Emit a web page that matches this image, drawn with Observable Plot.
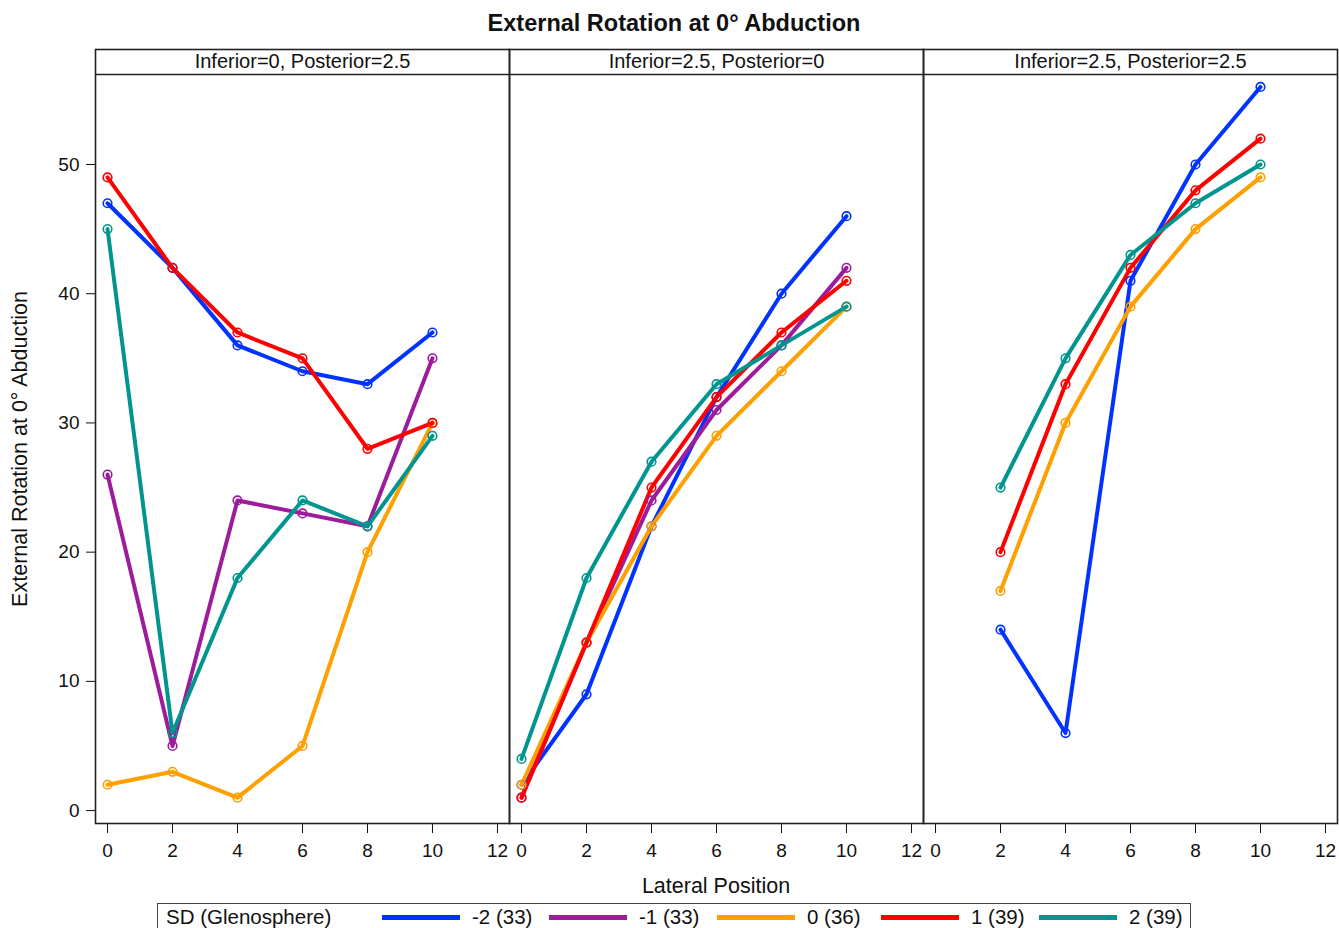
<!DOCTYPE html>
<html>
<head>
<meta charset="utf-8">
<script src="https://cdn.jsdelivr.net/npm/d3@7"></script>
<script src="https://cdn.jsdelivr.net/npm/@observablehq/plot@0.6"></script>
<style>
  html, body { margin: 0; padding: 0; background: #fff; }
  #wrap { position: relative; width: 1339px; height: 928px; overflow: hidden; font-family: "Liberation Sans", Arial, sans-serif; color: #111; }
  #title { position: absolute; left: 674px; top: 10px; transform: translateX(-50%); font-weight: bold; font-size: 23.5px; white-space: nowrap; }
  #chart { position: absolute; left: 0; top: 0; }
  #ylab { position: absolute; left: 20px; top: 449px; transform: translate(-50%, -50%) rotate(-90deg); font-size: 21.5px; white-space: nowrap; }
  #xlab { position: absolute; left: 716px; top: 886px; transform: translate(-50%, -50%); font-size: 21.5px; white-space: nowrap; }
  #legend { position: absolute; left: 157px; top: 903px; width: 1034px; height: 40px; border: 1.5px solid #444; box-sizing: border-box; display: flex; align-items: flex-start; padding-left: 8px; padding-top: 1px; font-size: 20.5px; white-space: nowrap; }
  #legend .ttl { width: 216px; flex: none; }
  #legend .item { display: flex; align-items: center; flex: none; }
  #legend .item:nth-of-type(2) { width: 167px; }
  #legend .item:nth-of-type(3) { width: 168px; }
  #legend .item:nth-of-type(4) { width: 164px; }
  #legend .item:nth-of-type(5) { width: 158px; }
  #legend .sw { width: 78px; height: 5px; margin-right: 12px; }
</style>
</head>
<body>
<div id="wrap">
  <div id="chart"></div>
  <div id="title">External Rotation at 0° Abduction</div>
  <div id="ylab">External Rotation at 0° Abduction</div>
  <div id="xlab">Lateral Position</div>
  <div id="legend"></div>
</div>
<script>
// ---- data ----
const panels = ["Inferior=0, Posterior=2.5", "Inferior=2.5, Posterior=0", "Inferior=2.5, Posterior=2.5"];
const series = ["-2 (33)", "-1 (33)", "0 (36)", "1 (39)", "2 (39)"];
const colors = ["#0033ff", "#9c1c9c", "#ff9f00", "#ff0000", "#00968f"];
const legendTitle = "SD (Glenosphere)";
const positions = [0, 2, 4, 6, 8, 10];
const xTicks = [0, 2, 4, 6, 8, 10, 12];
const yTicks = [0, 10, 20, 30, 40, 50];

// Panel 1: Inferior=0, Posterior=2.5
const p1_m2 = [47, 42, 36, 34, 33, 37];
const p1_m1 = [26, 5, 24, 23, 22, 35];
const p1_0  = [2, 3, 1, 5, 20, 30];
const p1_p1 = [49, 42, 37, 35, 28, 30];
const p1_p2 = [45, 6, 18, 24, 22, 29];
// Panel 2: Inferior=2.5, Posterior=0
const p2_m2 = [2, 9, 22, 32, 40, 46];
const p2_m1 = [1, 13, 24, 31, 36, 42];
const p2_0  = [2, 13, 22, 29, 34, 39];
const p2_p1 = [1, 13, 25, 32, 37, 41];
const p2_p2 = [4, 18, 27, 33, 36, 39];
// Panel 3: Inferior=2.5, Posterior=2.5 (no value at 0, no SD -1)
const p3_m2 = [null, 14, 6, 41, 50, 56];
const p3_m1 = [null, null, null, null, null, null];
const p3_0  = [null, 17, 30, 39, 45, 49];
const p3_p1 = [null, 20, 33, 42, 48, 52];
const p3_p2 = [null, 25, 35, 43, 47, 50];

const table = [
  [p1_m2, p1_m1, p1_0, p1_p1, p1_p2],
  [p2_m2, p2_m1, p2_0, p2_p1, p2_p2],
  [p3_m2, p3_m1, p3_0, p3_p1, p3_p2]
];

const rows = [];
table.forEach((bySeries, pi) => bySeries.forEach((vals, si) => vals.forEach((v, k) => {
  if (v != null) rows.push({panel: panels[pi], sd: series[si], pos: positions[k], value: v});
})));

const yTop = 58.9, yHead = 56.97;

const chart = Plot.plot({
  width: 1339,
  height: 880,
  marginLeft: 94,
  marginRight: 2,
  marginTop: 49,
  marginBottom: 57,
  style: {fontFamily: "Liberation Sans, Arial, sans-serif", fontSize: "19px", color: "#111", background: "transparent"},
  fx: {domain: panels, padding: 0, axis: null, label: null},
  x: {domain: [-0.37, 12.37], ticks: xTicks, tickSize: 10, tickPadding: 10, label: null},
  y: {domain: [-1, yTop], ticks: yTicks, tickSize: 9, tickPadding: 7, label: null},
  color: {domain: series, range: colors},
  marks: [
    Plot.line(rows, {fx: "panel", x: "pos", y: "value", z: "sd", stroke: "sd", strokeWidth: 4, strokeLinejoin: "round"}),
    Plot.dot(rows, {fx: "panel", x: "pos", y: "value", stroke: "sd", r: 4.3, strokeWidth: 1.6, fill: "none"}),
    Plot.ruleY([yHead], {stroke: "#222", strokeWidth: 1.5}),
    Plot.text(panels, {fx: d => d, text: d => d, x: 6, y: (yHead + yTop) / 2, fontSize: 20, fill: "#111"}),
    Plot.frame({stroke: "#222", strokeWidth: 1.6})
  ]
});
document.getElementById("chart").appendChild(chart);

// legend
const lg = document.getElementById("legend");
const t = document.createElement("span");
t.className = "ttl";
t.textContent = legendTitle;
lg.appendChild(t);
series.forEach((s, i) => {
  const it = document.createElement("span");
  it.className = "item";
  const sw = document.createElement("span");
  sw.className = "sw";
  sw.style.background = colors[i];
  const tx = document.createElement("span");
  tx.textContent = s;
  it.appendChild(sw);
  it.appendChild(tx);
  lg.appendChild(it);
});
</script>
</body>
</html>
